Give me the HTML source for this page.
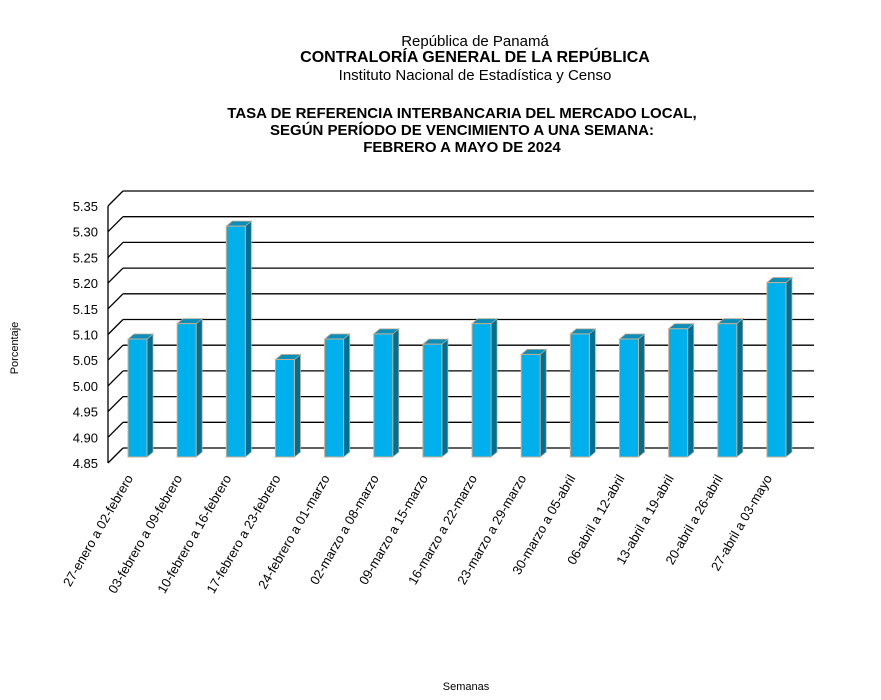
<!DOCTYPE html>
<html><head><meta charset="utf-8"><style>
body{margin:0;background:#fff;}
svg{display:block;font-family:"Liberation Sans",Arial,sans-serif;}
</style></head><body>
<svg width="881" height="700" viewBox="0 0 881 700" xmlns="http://www.w3.org/2000/svg">
<g text-anchor="middle" fill="#000">
<text x="475" y="46" font-size="15">República de Panamá</text>
<text x="475" y="62" font-size="16" font-weight="bold">CONTRALORÍA GENERAL DE LA REPÚBLICA</text>
<text x="475" y="80" font-size="15">Instituto  Nacional de Estadística y Censo</text>
<text x="462" y="118" font-size="15" font-weight="bold">TASA DE REFERENCIA INTERBANCARIA DEL MERCADO LOCAL,</text>
<text x="462" y="135" font-size="15" font-weight="bold">SEGÚN PERÍODO DE VENCIMIENTO A UNA SEMANA:</text>
<text x="462" y="152" font-size="15" font-weight="bold">FEBRERO A MAYO DE 2024</text>
</g>
<g id="grid" stroke="#000" stroke-width="1.3" fill="none"></g>
<g id="ylab" font-size="13" text-anchor="end" fill="#000"></g>
<g id="bars"></g>
<g id="xlab" font-size="13" text-anchor="end" fill="#000"></g>
<text x="18" y="348" font-size="11" text-anchor="middle" transform="rotate(-90 18 348)">Porcentaje</text>
<text x="466" y="690" font-size="11" text-anchor="middle">Semanas</text>
<script>
(function(){
var ns="http://www.w3.org/2000/svg";
function el(p,t,a,txt){var e=document.createElementNS(ns,t);for(var k in a)e.setAttribute(k,a[k]);if(txt)e.textContent=txt;p.appendChild(e);return e;}
var g=document.getElementById("grid"),yl=document.getElementById("ylab"),b=document.getElementById("bars"),xl=document.getElementById("xlab");
var step=25.7;
for(var k=0;k<=10;k++){
 var yb=448-k*step, yf=463-k*step;
 el(g,"line",{x1:123,y1:yb,x2:814,y2:yb});
 el(g,"line",{x1:108,y1:yf,x2:123,y2:yb});
 el(yl,"text",{x:98,y:yf+5},(4.85+k*0.05).toFixed(2));
}
el(g,"line",{x1:108,y1:206,x2:108,y2:463});
var v=[5.08,5.11,5.30,5.04,5.08,5.09,5.07,5.11,5.05,5.09,5.08,5.10,5.11,5.19];
var L=["27-enero a 02-febrero","03-febrero a 09-febrero","10-febrero a 16-febrero","17-febrero a 23-febrero","24-febrero a 01-marzo","02-marzo a 08-marzo","09-marzo a 15-marzo","16-marzo a 22-marzo","23-marzo a 29-marzo","30-marzo a 05-abril","06-abril a 12-abril","13-abril a 19-abril","20-abril a 26-abril","27-abril a 03-mayo"];
for(var i=0;i<14;i++){
 var x=128+i*49.15,w=19,bot=457,ty=457-(v[i]-4.85)*513;
 el(b,"polygon",{points:[x+w,bot,x+w+6,bot-5,x+w+6,ty-5,x+w,ty].join(" "),fill:"#006f93",stroke:"#b8a890","stroke-width":"0.8"});
 el(b,"polygon",{points:[x,ty,x+6,ty-5,x+w+6,ty-5,x+w,ty].join(" "),fill:"#0b8fba",stroke:"#b8a890","stroke-width":"0.8"});
 el(b,"rect",{x:x,y:ty,width:w,height:bot-ty,fill:"#00b0ec",stroke:"#c8b090","stroke-width":"1"});
 var cx=x+w/2-4,cy=478;
 el(xl,"text",{x:cx,y:cy,transform:"rotate(-60 "+cx+" "+cy+")"},L[i]);
}
})();
</script>
</svg>
</body></html>
